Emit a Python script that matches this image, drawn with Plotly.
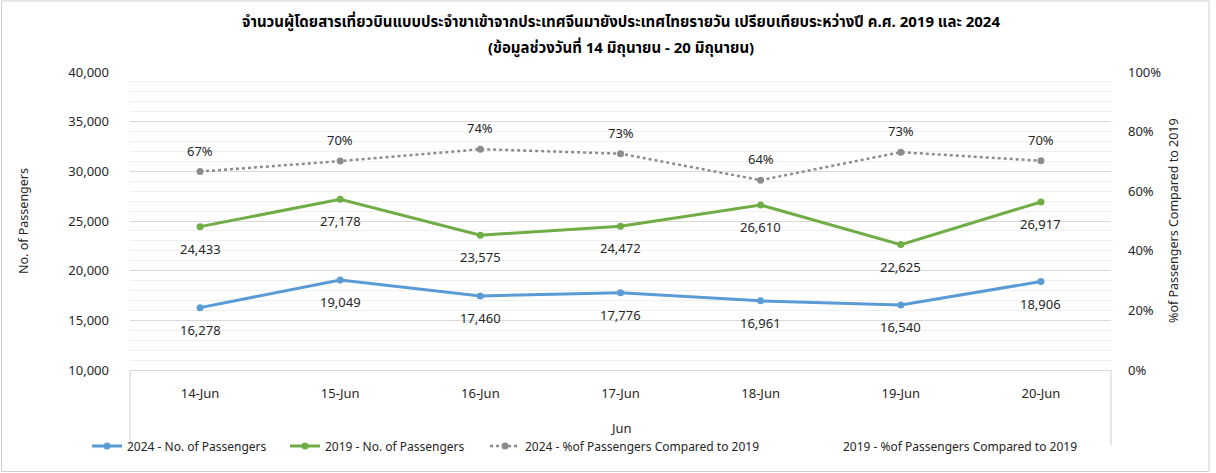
import plotly.graph_objects as go

categories = ["14-Jun", "15-Jun", "16-Jun", "17-Jun", "18-Jun", "19-Jun", "20-Jun"]
pax_2024 = [16278, 19049, 17460, 17776, 16961, 16540, 18906]
pax_2019 = [24433, 27178, 23575, 24472, 26610, 22625, 26917]
pct_2024 = [0.666, 0.701, 0.741, 0.726, 0.637, 0.731, 0.702]
left_ticks = [10000, 15000, 20000, 25000, 30000, 35000, 40000]
right_ticks = [0, 0.2, 0.4, 0.6, 0.8, 1.0]
title_line1 = "จำนวนผู้โดยสารเที่ยวบินแบบประจำขาเข้าจากประเทศจีนมายังประเทศไทยรายวัน เปรียบเทียบระหว่างปี ค.ศ. 2019 และ 2024"
title_line2 = "(ข้อมูลช่วงวันที่ 14 มิถุนายน - 20 มิถุนายน)"

FONT = "Noto Sans, Noto Sans Thai, Tahoma, sans-serif"
TXT = "#262626"
BLUE = "#5B9BD5"
GREEN = "#70AD47"
GRAY = "#8C8C8C"
FRAME = "#CFCFCF"

W, H = 1216, 473
L, R, T, B = 130, 105, 72, 103
PW, PH = W - L - R, H - T - B


def py(pix):
    return (T + PH - pix) / PH


def px(pix):
    return (pix - L) / PW


fig = go.Figure()
fig.add_trace(go.Scatter(x=categories, y=pax_2024, mode="lines+markers",
                         name="2024 - No. of Passengers", legend="legend",
                         line=dict(color=BLUE, width=3), marker=dict(size=7, color=BLUE)))
fig.add_trace(go.Scatter(x=categories, y=pax_2019, mode="lines+markers",
                         name="2019 - No. of Passengers", legend="legend2",
                         line=dict(color=GREEN, width=3), marker=dict(size=7, color=GREEN)))
fig.add_trace(go.Scatter(x=categories, y=pct_2024, mode="lines+markers", yaxis="y2",
                         name="2024 - %of Passengers Compared to 2019", legend="legend3",
                         line=dict(color=GRAY, width=2.5, dash="dot"), marker=dict(size=7, color=GRAY)))
fig.add_trace(go.Scatter(x=[categories[0]], y=[None], mode="lines", yaxis="y2",
                         name="2019 - %of Passengers Compared to 2019", legend="legend4",
                         line=dict(color="rgba(0,0,0,0)", width=0)))

lab_font = dict(size=13, color=TXT, family=FONT)
annotations = []
for c, v in zip(categories, pax_2024):
    annotations.append(dict(x=c, y=v, xref="x", yref="y", text=f"{v:,}", showarrow=False,
                            yshift=-22, font=lab_font))
for c, v in zip(categories, pax_2019):
    annotations.append(dict(x=c, y=v, xref="x", yref="y", text=f"{v:,}", showarrow=False,
                            yshift=-22, font=lab_font))
for c, v in zip(categories, pct_2024):
    annotations.append(dict(x=c, y=v, xref="x", yref="y2", text=f"{round(v*100):d}%", showarrow=False,
                            yshift=21, font=lab_font))
annotations.append(dict(x=0.5, y=py(428), xref="paper", yref="paper", text="Jun",
                        xanchor="center", yanchor="middle",
                        showarrow=False, font=lab_font))
annotations.append(dict(x=px(23), y=0.5, xref="paper", yref="paper", text="No. of Passengers",
                        xanchor="center", yanchor="middle",
                        textangle=-90, showarrow=False, font=dict(size=12.5, color=TXT, family=FONT)))
annotations.append(dict(x=px(1173), y=0.5, xref="paper", yref="paper",
                        text="%of Passengers Compared to 2019", xanchor="center", yanchor="middle",
                        textangle=-90, showarrow=False, font=dict(size=12.5, color=TXT, family=FONT)))
title_font = dict(size=15, color="#000000", family=FONT)
annotations.append(dict(x=0.5, y=py(22), xref="paper", yref="paper", xanchor="center", yanchor="middle",
                        text=f"<b>{title_line1}</b>", showarrow=False, font=title_font))
annotations.append(dict(x=0.5, y=py(48), xref="paper", yref="paper", xanchor="center", yanchor="middle",
                        text=f"<b>{title_line2}</b>", showarrow=False, font=title_font))

shapes = [
    dict(type="line", xref="paper", yref="paper", x0=0, x1=0, y0=0, y1=py(445),
         line=dict(color=FRAME, width=1)),
    dict(type="line", xref="paper", yref="paper", x0=1, x1=1, y0=0, y1=py(445),
         line=dict(color=FRAME, width=1)),
    dict(type="rect", xref="paper", yref="paper", x0=px(1.5), x1=px(1209),
         y0=py(471.5), y1=py(1), line=dict(color=FRAME, width=1)),
]

leg_font = dict(size=12, color=TXT, family=FONT)


def leg(xpix):
    return dict(orientation="h", x=xpix / W, xref="container", y=(H - 446) / H, yref="container",
                yanchor="middle", xanchor="left", font=leg_font, itemwidth=30,
                bgcolor="rgba(0,0,0,0)")


fig.update_layout(
    width=W, height=H,
    margin=dict(l=L, r=R, t=T, b=B),
    paper_bgcolor="white", plot_bgcolor="white",
    font=dict(family=FONT, size=13, color=TXT),
    showlegend=True,
    legend=leg(87), legend2=leg(285), legend3=leg(485), legend4=leg(803),
    xaxis=dict(type="category", range=[-0.5, 6.5], showgrid=False, showline=True,
               linecolor="#D9D9D9", linewidth=1, ticks="", ticklabelstandoff=11,
               tickfont=dict(size=13, color=TXT)),
    yaxis=dict(range=[10000, 40000], tickvals=left_ticks, tickformat=",", showgrid=True,
               gridcolor="#D9D9D9", gridwidth=1, zeroline=False, showline=False, ticks="",
               ticklabelstandoff=20, tickfont=dict(size=13, color=TXT),
               minor=dict(dtick=1000, showgrid=True, gridcolor="#F0F0F0", gridwidth=1)),
    yaxis2=dict(range=[0, 1], tickvals=right_ticks, tickformat=".0%", overlaying="y", side="right",
                showgrid=False, zeroline=False, showline=False, ticks="", ticklabelstandoff=16,
                tickfont=dict(size=13, color=TXT)),
    annotations=annotations,
    shapes=shapes,
)

fig.write_html("out.html")
